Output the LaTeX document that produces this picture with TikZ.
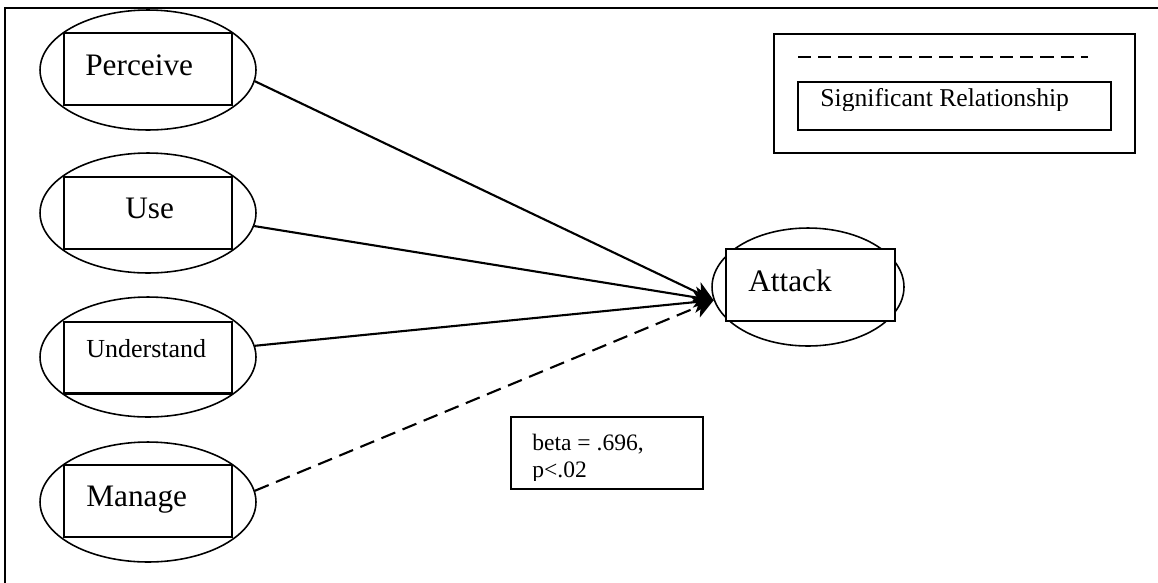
\documentclass[tikz,border=0pt]{standalone}
\usepackage{fontspec}
\setmainfont{Liberation Serif}
\usetikzlibrary{shapes.geometric, arrows.meta, positioning, fit, calc}

\begin{document}
\begin{tikzpicture}[
    x=0.02cm, y=-0.02cm,
    construct/.style={ellipse, draw, line width=0.9pt, inner sep=0pt, minimum width=4.32cm, minimum height=2.4cm},
    namebox/.style={rectangle, draw, fill=white, line width=1.15pt, inner sep=0pt, minimum width=3.36cm, minimum height=1.44cm},
    bigtext/.style={anchor=base west, inner sep=0pt, font=\fontsize{17.8}{20}\selectfont},
    midtext/.style={anchor=base west, inner sep=0pt, font=\fontsize{14.8}{17}\selectfont},
    notetext/.style={anchor=base west, inner sep=0pt, font=\fontsize{13.4}{15}\selectfont},
    link/.style={line width=1.2pt, -{Stealth[length=11pt, width=12pt, inset=3pt]}},
    >=Stealth
]
\useasboundingbox (0,0) rectangle (1158,582);

% Frame
\draw[line width=0.8pt] (5,8) rectangle (1180,600);

% Predictors
\node[construct] (perceive) at (148,70) {};
\node[namebox] (perceivebox) at (148,69) {};
\node[bigtext] (perceivetxt) at (85,75) {Perceive};

\node[construct] (use) at (148,213) {};
\node[namebox] (usebox) at (148,213) {};
\node[bigtext] (usetxt) at (125,218) {Use};

\node[construct] (understand) at (148,357) {};
\node[namebox] (understandbox) at (148,357.5) {};
\node[midtext] (understandtxt) at (86,357) {Understand};

\node[construct] (manage) at (148,502) {};
\node[namebox] (managebox) at (148,501) {};
\node[bigtext] (managetxt) at (86,506) {Manage};

% Outcome
\node[construct, minimum width=3.84cm, minimum height=2.36cm] (attack) at (808,287) {};
\node[namebox, minimum width=3.38cm] (attackbox) at (810.5,285) {};
\node[bigtext] (attacktxt) at (748,291) {Attack};

% Paths
\draw[link] (perceive.-6) -- (attack.188);
\draw[link] (use.-7) -- (attack.188);
\draw[link] (understand.6) -- (attack.188);
\draw[link, dash pattern=on 8.5pt off 4.5pt] (manage.6) -- (attack.188);

% Coefficient
\node[draw, line width=1.15pt, inner sep=0pt, minimum width=3.84cm, minimum height=1.44cm] (betabox) at (607,453) {};
\begin{scope}
\clip (511,417) rectangle (703,480);
\node[notetext] (betatxt) at (532,450) {beta = .696,};
\node[notetext] (ptxt) at (532,477) {p<.02};
\end{scope}

% Legend
\node[draw, line width=1.15pt, inner sep=0pt, minimum width=7.22cm, minimum height=2.38cm] (legend) at (954.5,93.5) {};
\coordinate (dashstart) at (798,57);
\coordinate (dashend) at (1088,57);
\draw[line width=1pt, dash pattern=on 7.5pt off 4pt] (dashstart) -- (dashend);
\node[draw, line width=1.15pt, inner sep=0pt, minimum width=6.26cm, minimum height=0.96cm] (sigbox) at (954.5,106) {};
\begin{scope}
\clip (798,82) rectangle (1111,110);
\node[midtext, font=\fontsize{14.6}{17}\selectfont] (sigtxt) at (820,106) {Significant Relationship};
\end{scope}
\end{tikzpicture}
\end{document}
